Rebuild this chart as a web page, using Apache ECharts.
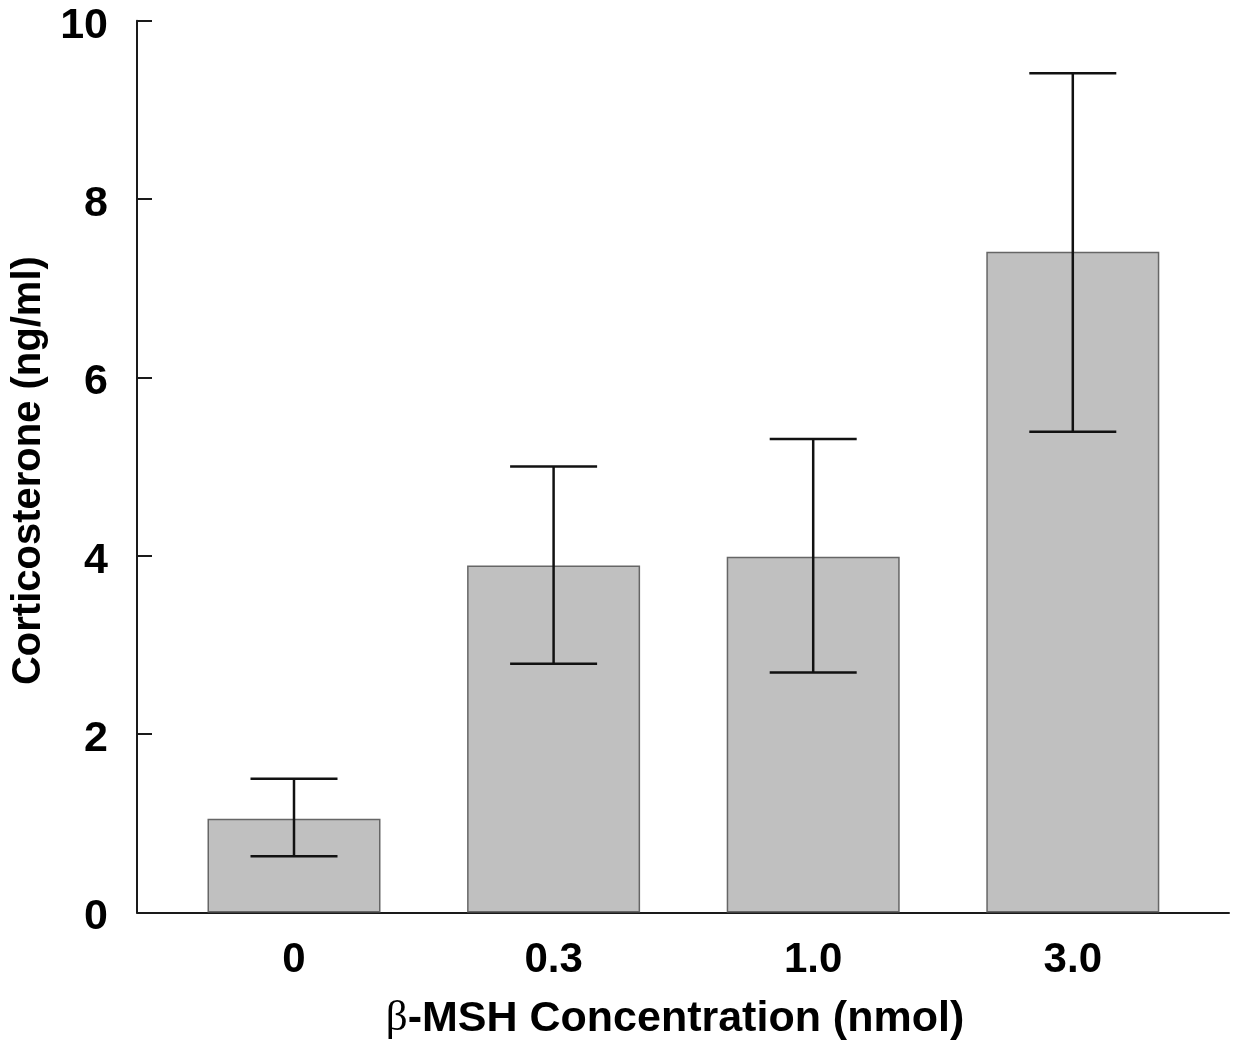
<!DOCTYPE html>
<html>
<head>
<meta charset="utf-8">
<title>Corticosterone vs β-MSH</title>
<script src="https://cdn.jsdelivr.net/npm/echarts@6/dist/echarts.min.js"></script>
<style>
  html, body { margin: 0; padding: 0; background: #fff; }
  #chart { width: 1233px; height: 1046px; }
</style>
</head>
<body>
<div id="chart"></div>
<script>
// β-MSH dose groups (nmol)
const categories = ['0', '0.3', '1.0', '3.0'];
// mean corticosterone (ng/ml)
const means = [1.05, 3.89, 3.99, 7.41];
// error bar ends (ng/ml)
const errUpper = [1.50, 5.00, 5.31, 9.41];
const errLower = [0.63, 2.79, 2.69, 5.39];
// y-axis ticks
const yMin = 0, yMax = 10, yStep = 2;

const FONT = "'Liberation Sans', Arial, Helvetica, sans-serif";
const INK = '#1a1a1a';

const chart = echarts.init(document.getElementById('chart'), null, { renderer: 'canvas' });

const errData = categories.map((c, i) => [i, errLower[i], errUpper[i]]);

const option = {
  backgroundColor: '#ffffff',
  animation: false,
  grid: [
    // frame: carries the visible axes
    { left: 137, right: 4, top: 20.7, bottom: 133.5, containLabel: false },
    // plotting band for the bars, inset inside the frame
    { left: 164.2, right: 30.4, top: 20.7, bottom: 133.5, containLabel: false }
  ],
  xAxis: [
    {
      gridIndex: 0,
      type: 'value',
      min: 0, max: 1,
      axisLine: { show: true, onZero: false, lineStyle: { color: INK, width: 2 } },
      axisTick: { show: false },
      axisLabel: { show: false },
      splitLine: { show: false },
      name: '{b|β}-MSH Concentration (nmol)',
      nameLocation: 'middle',
      nameGap: 85,
      nameTextStyle: {
        fontFamily: FONT, fontWeight: 'bold', fontSize: 43, color: '#000',
        padding: [0, 16, 0, 0],
        rich: {
          b: { fontFamily: "'Liberation Serif', 'DejaVu Serif', serif", fontWeight: 'normal', fontSize: 43, color: '#000' }
        }
      }
    },
    {
      gridIndex: 1,
      type: 'category',
      data: categories,
      boundaryGap: true,
      axisLine: { show: false },
      axisTick: { show: false },
      axisLabel: {
        fontFamily: FONT, fontWeight: 'bold', fontSize: 42, color: '#000', margin: 27
      },
      splitLine: { show: false }
    }
  ],
  yAxis: [
    {
      gridIndex: 0,
      type: 'value',
      min: yMin, max: yMax, interval: yStep,
      axisLine: { show: true, lineStyle: { color: INK, width: 2 } },
      axisTick: { show: true, inside: true, length: 15, lineStyle: { color: INK, width: 2 } },
      axisLabel: {
        margin: 29,
        formatter: '{v|{value}}',
        rich: {
          v: { fontFamily: FONT, fontWeight: 'bold', fontSize: 43, color: '#000', padding: [10, 0, 0, 0] }
        }
      },
      splitLine: { show: false },
      name: 'Corticosterone (ng/ml)',
      nameLocation: 'middle',
      nameGap: 84,
      nameTextStyle: { fontFamily: FONT, fontWeight: 'bold', fontSize: 40, color: '#000', padding: [0, 8, 0, 0] }
    },
    {
      gridIndex: 1,
      type: 'value',
      min: yMin, max: yMax, interval: yStep,
      show: false
    }
  ],
  series: [
    {
      type: 'bar',
      xAxisIndex: 1, yAxisIndex: 1,
      data: means,
      barWidth: 173,
      itemStyle: { color: '#c0c0c0', borderColor: '#666666', borderWidth: 1.5 },
      z: 2
    },
    {
      type: 'custom',
      xAxisIndex: 1, yAxisIndex: 1,
      data: errData,
      z: 3,
      renderItem: function (params, api) {
        const i = api.value(0);
        const lo = api.coord([i, api.value(1)]);
        const hi = api.coord([i, api.value(2)]);
        const half = 43.5;
        const style = { stroke: '#111', lineWidth: 2.5 };
        return {
          type: 'group',
          children: [
            { type: 'line', shape: { x1: hi[0], y1: hi[1], x2: lo[0], y2: lo[1] }, style: style },
            { type: 'line', shape: { x1: hi[0] - half, y1: hi[1], x2: hi[0] + half, y2: hi[1] }, style: style },
            { type: 'line', shape: { x1: lo[0] - half, y1: lo[1], x2: lo[0] + half, y2: lo[1] }, style: style }
          ]
        };
      }
    }
  ]
};

chart.setOption(option);
</script>
</body>
</html>
